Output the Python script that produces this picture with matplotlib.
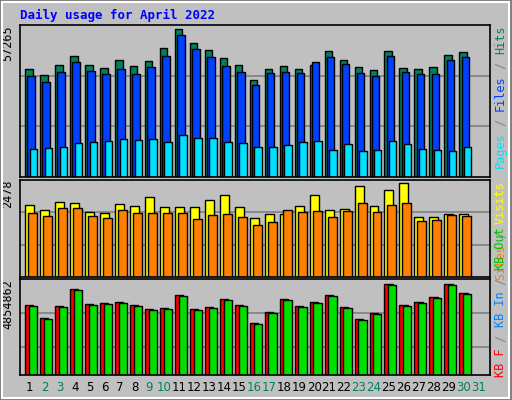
import matplotlib.pyplot as plt
from matplotlib.patches import Rectangle

days = list(range(1, 32))
weekend = [2, 3, 9, 10, 16, 17, 23, 24, 30, 31]

# values (pixel heights converted to units)
hits_px = [107, 101, 111, 120, 111, 108, 116, 110, 115, 128, 147, 133, 126, 118, 111,
           96, 107, 110, 107, 111, 125, 116, 109, 106, 125, 108, 107, 109, 121, 124]
files_px = [100, 94, 104, 114, 105, 102, 107, 102, 109, 120, 141, 127, 119, 110, 104,
            91, 103, 104, 103, 114, 119, 112, 103, 100, 120, 104, 102, 102, 116, 119]
pages_px = [28, 29, 30, 34, 35, 36, 38, 37, 38, 35, 42, 39, 39, 35, 34,
            30, 30, 32, 35, 36, 27, 33, 26, 27, 36, 33, 28, 27, 26, 30]
visits_px = [72, 67, 75, 74, 65, 64, 73, 71, 80, 70, 70, 70, 77, 82, 70,
             59, 63, 63, 71, 82, 67, 68, 91, 71, 87, 94, 60, 60, 63, 63]
sites_px = [64, 61, 69, 69, 61, 59, 67, 64, 64, 64, 64, 58, 62, 63, 60,
            52, 55, 67, 65, 66, 60, 66, 74, 65, 72, 74, 56, 57, 62, 61]
kbout_px = [70, 57, 69, 86, 71, 72, 73, 70, 66, 67, 80, 66, 68, 76, 70,
            52, 63, 76, 69, 73, 80, 68, 56, 62, 91, 70, 73, 78, 91, 82]

MAX_HITS = 57265
MAX_VISITS = 2478
MAX_KB = 4854862
hits = [v / 147 * MAX_HITS for v in hits_px]
files = [v / 147 * MAX_HITS for v in files_px]
pages = [v / 147 * MAX_HITS for v in pages_px]
visits = [v / 94 * MAX_VISITS for v in visits_px]
sites = [v / 94 * MAX_VISITS for v in sites_px]
kbout = [v / 91 * MAX_KB for v in kbout_px]
kbin = [v - 0.006 * MAX_KB for v in kbout]

W, H = 512, 400
BG = '#C0C0C0'
FONT = 'DejaVu Sans Mono'
FS = 8.5
CHAR = 0.602 * FS * 100 / 72  # monospace advance in pixels

fig = plt.figure(figsize=(W / 100, H / 100), dpi=100)
fig.patch.set_facecolor(BG)
# bevel border
fig.add_artist(Rectangle((0, 0), 1, 1, transform=fig.transFigure, fill=False,
                         edgecolor='#808080', lw=4))
fig.add_artist(Rectangle((0.004, 0.005), 0.99, 0.99, transform=fig.transFigure,
                         fill=False, edgecolor='white', lw=1.5))


def make_ax(top, bottom, ymax, frac):
    ax = fig.add_axes([20 / W, 1 - bottom / H, 470 / W, (bottom - top) / H])
    ax.set_facecolor(BG)
    ax.set_xlim(0.6, 32.0)
    ax.set_ylim(0, ymax / frac)
    ax.set_xticks([])
    ax.set_yticks([])
    for s in ax.spines.values():
        s.set_color('black')
        s.set_linewidth(1.2)
    return ax


def bars(ax, series, colors, offsets, width=0.5):
    for vals, col, off in zip(series, colors, offsets):
        ax.bar([d + off for d in days[:len(vals)]], vals, width=width, color=col,
               edgecolor='black', linewidth=1, align='edge')


ax1 = make_ax(25, 177, MAX_HITS, 147 / 151)
for f in (1 / 3, 2 / 3):
    ax1.axhline(ax1.get_ylim()[1] * f, color='#808080', lw=1.2, zorder=0)
bars(ax1, [hits, files, pages], ['#00805C', '#0040FF', '#00E0FF'], [-0.05, 0.1, 0.25])

ax2 = make_ax(180, 277, MAX_VISITS, 94 / 97)
for f in (1 / 3, 2 / 3):
    ax2.axhline(ax2.get_ylim()[1] * f, color='#808080', lw=1.2, zorder=0)
bars(ax2, [visits, sites], ['#FFFF00', '#FF8000'], [-0.05, 0.15], width=0.6)

ax3 = make_ax(279, 375, MAX_KB, 91 / 96)
for f in (0.29, 0.65):
    ax3.axhline(ax3.get_ylim()[1] * f, color='#808080', lw=1.2, zorder=0)
bars(ax3, [kbout, kbin], ['#FF0000', '#00E000'], [-0.05, 0.2], width=0.55)

fig.text(20 / W, 1 - 15 / H, 'Daily usage for April 2022', color='#0000FF',
         fontsize=9, fontweight='bold', family=FONT, va='center')

for ax, lab in [(ax1, '57265'), (ax2, '2478'), (ax3, '4854862')]:
    ax.text(-0.012, 1, lab, transform=ax.transAxes, rotation=90, ha='right', va='top',
            fontsize=FS, family=FONT)


def side(parts, y_bottom_px):
    # vertical label read bottom to top, starting at y_bottom_px (from top of image)
    y = y_bottom_px
    for txt, col in parts:
        fig.text(494 / W, 1 - y / H, txt, rotation=90, ha='left', va='bottom',
                 fontsize=FS, family=FONT, color=col)
        y -= len(txt) * CHAR


side([('Pages', '#00E0FF'), (' / ', '#808080'), ('Files', '#0040FF'),
      (' / ', '#808080'), ('Hits', '#00805C')], 26 + 20 * CHAR)
side([('Sites', '#FF8000'), (' / ', '#808080'), ('Visits', '#FFFF00')], 181 + 14 * CHAR)
side([('KB F', '#FF0000'), (' / ', '#808080'), ('KB In', '#0080FF'),
      (' / ', '#808080'), ('KB Out', '#00C000')], 377)

for d in days:
    col = '#008060' if d in weekend else 'black'
    ax3.text(d + 0.25, -0.06, str(d), transform=ax3.get_xaxis_transform(), ha='center',
             va='top', fontsize=FS, family='DejaVu Sans', color=col)

fig.savefig('out.png', dpi=100, facecolor=BG)
